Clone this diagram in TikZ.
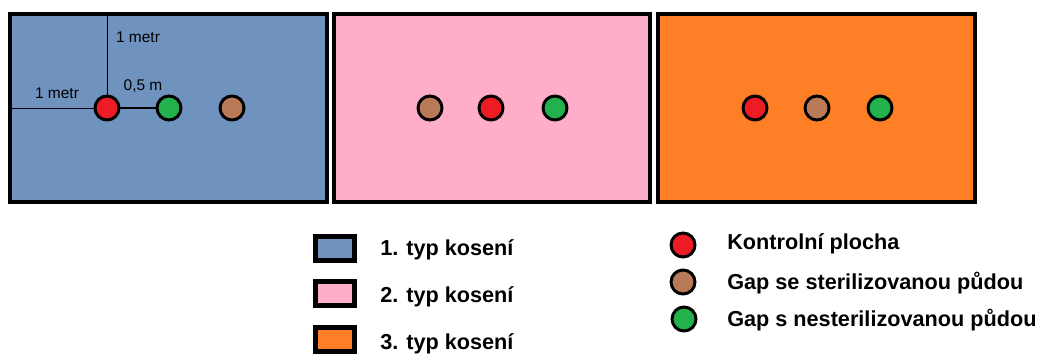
\documentclass[tikz,border=0pt]{standalone}
\usepackage{fontspec}
\setmainfont{Liberation Sans}
\usetikzlibrary{positioning}
\definecolor{mowone}{HTML}{7092BE}
\definecolor{mowtwo}{HTML}{FFAEC9}
\definecolor{mowthree}{HTML}{FF7F27}
\definecolor{ctrlred}{HTML}{ED1C24}
\definecolor{sterbrown}{HTML}{B97A57}
\definecolor{nonstergreen}{HTML}{22B14C}
\tikzstyle{field} = [draw=black, line width=3.2pt]
\tikzstyle{legbox} = [draw=black, line width=3.4pt]
\tikzstyle{spot} = [circle, draw=black, line width=2.1pt, minimum size=0.6cm, inner sep=0pt]
\tikzstyle{dist} = [font=\fontsize{11}{13}\selectfont, inner sep=1pt]
\tikzstyle{legtext} = [anchor=west, font=\fontsize{15.4}{18}\selectfont\bfseries, inner sep=0pt]

\begin{document}
\begin{tikzpicture}[x=0.025cm, y=-0.025cm]
\useasboundingbox (0,0) rectangle (1043,354);
% plots
\draw [field, fill=mowone] (10,14) rectangle (327,202);
\draw [field, fill=mowtwo] (334,14) rectangle (650,202);
\draw [field, fill=mowthree] (658,14) rectangle (975,202);

% first plot with distances
\node (r1) [spot, fill=ctrlred] at (107,108) {};
\node (g1) [spot, fill=nonstergreen] at (169,108) {};
\node (b1) [spot, fill=sterbrown] at (232,108) {};
\coordinate (top1) at (107,12);
\coordinate (left1) at (12,108);
\draw [line width=0.7pt] (top1) -- (r1);
\draw [line width=0.7pt] (left1) -- (r1);
\draw [line width=1.8pt] (r1) -- (g1);
\node (mtop) [dist] at (138,37) {1 metr};
\node (mleft) [dist] at (57,93) {1 metr};
\node (half) [dist] at (143,86) {0,5 m};

% second plot
\node (b2) [spot, fill=sterbrown] at (430,108) {};
\node (r2) [spot, fill=ctrlred] at (491,108) {};
\node (g2) [spot, fill=nonstergreen] at (555,108) {};

% third plot
\node (r3) [spot, fill=ctrlred] at (755,108) {};
\node (b3) [spot, fill=sterbrown] at (817,108) {};
\node (g3) [spot, fill=nonstergreen] at (880,108) {};

% legend
\draw [legbox, fill=mowone] (315.5,236.5) rectangle (354.5,260.5);
\draw [legbox, fill=mowtwo] (315.5,281.5) rectangle (354.5,305.5);
\draw [legbox, fill=mowthree] (315.5,327.5) rectangle (354.5,351.5);
\node (t1) [legtext] at (380,250) {1. typ kosení};
\node (t2) [legtext] at (380,297) {2. typ kosení};
\node (t3) [legtext] at (380,344) {3. typ kosení};

\node (lr) [spot, fill=ctrlred] at (683,245) {};
\node (lb) [spot, fill=sterbrown] at (683,282) {};
\node (lg) [spot, fill=nonstergreen] at (684,319) {};
\node (tr) [legtext] at (727,244) {Kontrolní plocha};
\node (tb) [legtext] at (727,283) {Gap se sterilizovanou půdou};
\node (tg) [legtext] at (727,320) {Gap s nesterilizovanou půdou};
\end{tikzpicture}
\end{document}
